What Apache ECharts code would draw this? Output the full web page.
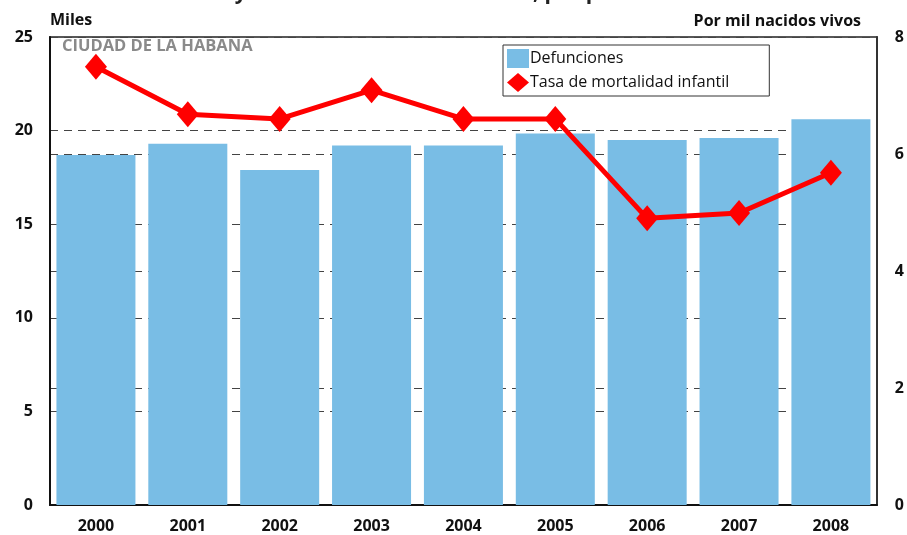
<!DOCTYPE html>
<html>
<head>
<meta charset="utf-8">
<script src="https://cdn.jsdelivr.net/npm/echarts@6/dist/echarts.min.js"></script>
<style>html,body{margin:0;padding:0;background:#fff}#c{width:907px;height:535px}</style>
</head>
<body>
<div id="c"></div>
<script>
var years = ['2000','2001','2002','2003','2004','2005','2006','2007','2008'];
var defunciones = [18.7, 19.3, 17.9, 19.2, 19.2, 19.85, 19.5, 19.6, 20.6];
var tasa = [7.49, 6.68, 6.6, 7.09, 6.6, 6.6, 4.9, 4.99, 5.68];
var leftTicks = [0, 5, 10, 15, 20, 25];
var rightTicks = [0, 2, 4, 6, 8];

var FF = "'Open Sans', 'DejaVu Sans', sans-serif";
var chart = echarts.init(document.getElementById('c'), null, {renderer: 'canvas'});
var gridLine = {show: true, lineStyle: {color: '#444', width: 1, type: [8, 6]}};
chart.setOption({
  animation: false,
  title: {
    text: 'Defunciones y tasa de mortalidad infantil, por provincias. 2000-2008',
    left: 'center', top: -22,
    textStyle: {fontFamily: FF, fontWeight: 'bold', fontSize: 21, color: '#222'}
  },
  grid: {left: 50, right: 30, top: 37, bottom: 30, show: true, borderColor: '#222', borderWidth: 1.5, backgroundColor: 'transparent'},
  legend: {
    orient: 'vertical', left: 503, top: 45, width: 261,
    padding: [4, 40, 4, 4], itemGap: 5,
    borderColor: '#333', borderWidth: 1,
    textStyle: {fontFamily: FF, fontSize: 16, color: '#111', padding: [0, 0, 0, -4]},
    data: [
      {name: 'Defunciones', icon: 'rect', itemStyle: {color: '#79bde5'}},
      {name: 'Tasa de mortalidad infantil', icon: 'diamond'}
    ],
    itemWidth: 22, itemHeight: 19
  },
  xAxis: {
    type: 'category', data: years,
    axisLine: {lineStyle: {color: '#111', width: 2}},
    axisTick: {show: false},
    axisLabel: {fontFamily: FF, fontWeight: 'bold', fontSize: 16, color: '#111', margin: 13}
  },
  yAxis: [
    {
      type: 'value', min: leftTicks[0], max: leftTicks[leftTicks.length - 1], interval: 5,
      axisLine: {show: true, lineStyle: {color: '#111', width: 2}},
      axisTick: {show: false},
      axisLabel: {fontFamily: FF, fontWeight: 'bold', fontSize: 16, color: '#111', margin: 17},
      splitLine: gridLine
    },
    {
      type: 'value', min: rightTicks[0], max: rightTicks[rightTicks.length - 1], interval: 2,
      axisLine: {show: true, lineStyle: {color: '#333', width: 2}},
      axisTick: {show: false},
      axisLabel: {fontFamily: FF, fontWeight: 'bold', fontSize: 16, color: '#111', margin: 18},
      splitLine: gridLine
    }
  ],
  graphic: [
    {type: 'text', left: 50, top: 12, style: {text: 'Miles', font: "bold 16px 'Open Sans', sans-serif", fill: '#111'}},
    {type: 'text', right: 46, top: 13, style: {text: 'Por mil nacidos vivos', font: "bold 16px 'Open Sans', sans-serif", fill: '#111'}},
    {type: 'text', left: 62, top: 38, z: 10, style: {text: 'CIUDAD DE LA HABANA', font: "bold 16.5px 'Open Sans', sans-serif", fill: '#8a8a8a'}}
  ],
  series: [
    {
      name: 'Defunciones', type: 'bar', data: defunciones, yAxisIndex: 0,
      barCategoryGap: '14%', itemStyle: {color: '#79bde5'}
    },
    {
      name: 'Tasa de mortalidad infantil', type: 'line', data: tasa, yAxisIndex: 1,
      symbol: 'diamond', symbolSize: [22, 26],
      lineStyle: {color: '#ff0000', width: 5},
      itemStyle: {color: '#ff0000'}
    }
  ]
});
</script>
</body>
</html>
